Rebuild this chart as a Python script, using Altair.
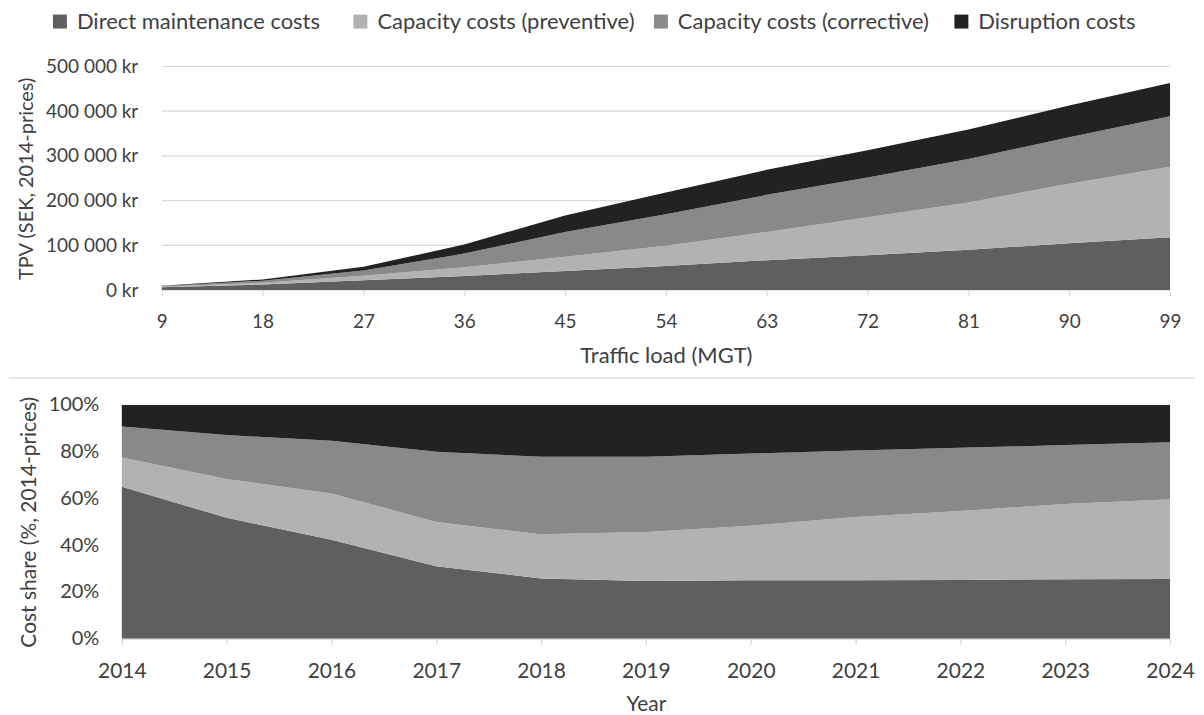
import altair as alt
import pandas as pd

# ---------------- data ----------------
categories = [
    "Direct maintenance costs",
    "Capacity costs (preventive)",
    "Capacity costs (corrective)",
    "Disruption costs",
]
colors = ["#5f5f5f", "#b2b2b2", "#898989", "#222222"]

traffic_mgt = [9, 18, 27, 36, 45, 54, 63, 72, 81, 90, 99]
years = [2014, 2015, 2016, 2017, 2018, 2019, 2020, 2021, 2022, 2023, 2024]

direct = [6500, 12400, 22000, 31600, 42900, 53800, 67000, 78000, 90000, 105000, 118000]
preventive = [1250, 4000, 10300, 19300, 31600, 45600, 63000, 85000, 106000, 133000, 158000]
corrective = [1330, 4500, 11700, 30700, 55400, 70200, 83000, 89000, 97000, 104000, 113000]
disruption = [920, 3100, 8000, 20400, 37100, 48400, 56000, 61000, 66000, 71000, 74000]

tpv_ticks = [0, 100000, 200000, 300000, 400000, 500000]
share_ticks = [0, 0.2, 0.4, 0.6, 0.8, 1.0]

series = [direct, preventive, corrective, disruption]
rows = []
for k, (cat, vals) in enumerate(zip(categories, series)):
    for m, yr, v in zip(traffic_mgt, years, vals):
        rows.append({"category": cat, "order": k, "mgt": m, "year": yr, "value": v})
df = pd.DataFrame(rows)

grid_df = pd.DataFrame({"value": tpv_ticks, "mgt": traffic_mgt[0], "mgt_end": traffic_mgt[-1]})
sep_df = pd.DataFrame({"s": [0]})

# ---------------- style ----------------
FONT = "Lato"
TXT = "#404040"
GRID = "#d9d9d9"

color_scale = alt.Scale(domain=categories, range=colors)
x_top_scale = alt.Scale(domain=[9, 99], range=[40, 1050], nice=False, zero=False)
y_top_scale = alt.Scale(domain=[0, 500000], nice=False)

x_top_axis = alt.Axis(
    values=traffic_mgt, title="Traffic load (MGT)", domain=False, grid=False,
    tickColor=GRID, tickSize=6, tickWidth=1.2, labelPadding=16, labelFontSize=19,
    labelFlush=False, titleFontSize=22, titlePadding=15,
)
y_top_axis = alt.Axis(
    values=tpv_ticks,
    labelExpr="replace(format(datum.value, ','), ',', ' ') + ' kr'",
    title="TPV (SEK, 2014-prices)", grid=False, domain=False, ticks=False,
    offset=-40, labelPadding=24, labelFontSize=19, titleFontSize=20, titlePadding=9,
)

# ---------------- top chart ----------------
area_top = alt.Chart(df).mark_area().encode(
    x=alt.X("mgt:Q", scale=x_top_scale, axis=x_top_axis),
    y=alt.Y("value:Q", stack="zero", scale=y_top_scale, axis=y_top_axis),
    color=alt.Color(
        "category:N",
        scale=color_scale,
        legend=alt.Legend(
            title=None, orient="none", legendX=-73, legendY=-56, direction="horizontal",
            columns=4, gridAlign="all", symbolType="square", symbolSize=196,
            symbolStrokeWidth=0, labelFont=FONT, labelFontSize=22, labelColor=TXT,
            labelOffset=6, columnPadding=14, padding=0, labelLimit=400,
        ),
    ),
    order=alt.Order("order:Q"),
)

grid = alt.Chart(grid_df).mark_rule(color=GRID, strokeWidth=1.2).encode(
    x=alt.X("mgt:Q", scale=x_top_scale, axis=x_top_axis),
    x2="mgt_end:Q",
    y=alt.Y("value:Q", scale=y_top_scale, axis=y_top_axis),
)

separator = alt.Chart(sep_df).mark_rule(color=GRID, strokeWidth=1.2).encode(
    x=alt.value(-113), x2=alt.value(1075), y=alt.value(312)
)

top = alt.layer(grid, area_top, separator).properties(width=1050, height=224)

# ---------------- bottom chart ----------------
bottom = alt.Chart(df).mark_area().encode(
    x=alt.X(
        "year:Q",
        scale=alt.Scale(domain=[2014, 2024], nice=False, zero=False),
        axis=alt.Axis(
            values=years, format="d", title="Year", domainColor=GRID, domainWidth=1.2,
            grid=False, tickColor=GRID, tickSize=6, tickWidth=1.2, labelPadding=16,
            labelFontSize=21, labelFlush=False, titleFontSize=21, titlePadding=12,
        ),
    ),
    y=alt.Y(
        "value:Q",
        stack="normalize",
        axis=alt.Axis(
            values=share_ticks, format="%", title="Cost share (%, 2014-prices)",
            grid=True, gridColor=GRID, gridWidth=1.2, domain=False, ticks=False,
            labelPadding=23, labelFontSize=20, titleFontSize=21, titlePadding=9,
        ),
    ),
    color=alt.Color("category:N", scale=color_scale, legend=None),
    order=alt.Order("order:Q"),
).properties(width=1050, height=234)

chart = (
    alt.vconcat(top, bottom, spacing=16)
    .resolve_legend(color="independent")
    .resolve_scale(x="independent", y="independent")
    .properties(padding={"top": 2, "left": 0, "right": 0, "bottom": 0}, background="white")
    .configure_view(stroke=None)
    .configure_axis(
        labelFont=FONT, titleFont=FONT, labelColor=TXT, titleColor=TXT,
        titleFontWeight="normal",
    )
)

chart.save("out.html", embed_options={"renderer": "svg", "actions": False})
